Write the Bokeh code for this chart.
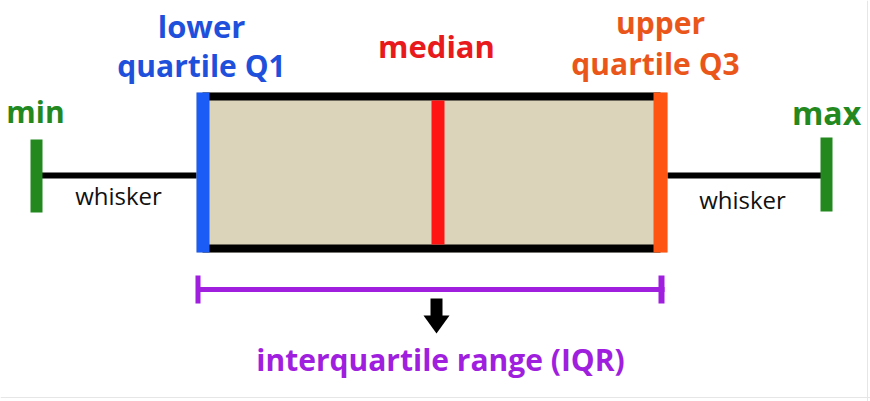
from bokeh.plotting import figure
from bokeh.models import Range1d, Span
from bokeh.core.properties import value
from bokeh.embed import file_html
from bokeh.resources import INLINE

# ---- data (diagram positions of the five-number summary, in drawing units) ----
stat_names = ["min", "Q1", "median", "Q3", "max"]
stat_values = [36, 202, 437, 660, 826]

# label texts
top_labels = ["lower", "quartile Q1", "median", "upper", "quartile Q3", "min", "max"]
whisker_label = "whisker"
iqr_label = "interquartile range (IQR)"

# colours
GREEN = "#23891f"
BLUE_TXT = "#1f50dc"
BLUE_BAR = "#1a5cf5"
RED_TXT = "#e81a1c"
RED_BAR = "#ff1414"
ORANGE_TXT = "#ea561a"
ORANGE_BAR = "#ff5512"
PURPLE = "#a01fdf"
BEIGE = "#dcd3bb"

vmin, q1, med, q3, vmax = stat_values

W, H = 870, 401
p = figure(width=W, height=H, x_range=Range1d(0, W), y_range=Range1d(H, 0),
           output_backend="svg", toolbar_location=None, min_border=0)
p.axis.visible = False
p.grid.visible = False
p.outline_line_color = None
p.background_fill_color = "white"
p.border_fill_color = "white"

# faint frame lines (right and bottom) of the original picture
p.add_layout(Span(location=867, dimension="height", line_color="#e6e6e6", line_width=1))
p.add_layout(Span(location=397, dimension="width", line_color="#e6e6e6", line_width=1))

mid_y = 175
box_top, box_bot = 92, 252
edge = 8

# whiskers
p.segment(x0=[vmin, q3], y0=[mid_y, mid_y], x1=[q1, vmax], y1=[mid_y, mid_y],
          line_color="black", line_width=6)
# min / max caps
p.quad(left=[vmin - 6, vmax - 6], right=[vmin + 6, vmax + 6],
       top=[139, 137], bottom=[212, 211], fill_color=GREEN, line_color=None)
# box body
p.quad(left=[q1 - 6], right=[q3 + 7], top=[box_top], bottom=[box_bot],
       fill_color=BEIGE, line_color=None)
# box top/bottom edges
p.quad(left=[q1, q1], right=[q3, q3], top=[box_top, box_bot - edge],
       bottom=[box_top + edge, box_bot], fill_color="black", line_color=None)
# Q1 and Q3 bars
p.quad(left=[q1 - 6], right=[q1 + 7], top=[box_top], bottom=[box_bot],
       fill_color=BLUE_BAR, line_color=None)
p.quad(left=[q3 - 7], right=[q3 + 7], top=[box_top], bottom=[box_bot],
       fill_color=ORANGE_BAR, line_color=None)
# median
p.quad(left=[med - 6], right=[med + 7], top=[box_top + edge], bottom=[box_bot - edge],
       fill_color=RED_BAR, line_color=None)

# IQR bracket
iqr_y = 289
p.segment(x0=[q1 - 5], y0=[iqr_y], x1=[q3 + 4], y1=[iqr_y], line_color=PURPLE, line_width=5)
p.quad(left=[q1 - 7, q3 - 2], right=[q1 - 2, q3 + 4], top=[275, 275], bottom=[303, 303],
       fill_color=PURPLE, line_color=None)

# arrow
ax = med - 1
p.quad(left=[ax - 6], right=[ax + 6], top=[298], bottom=[316], fill_color="black", line_color=None)
p.patch(x=[ax - 13, ax + 13, ax], y=[315, 315, 333], fill_color="black", line_color=None)

FONT = value("Open Sans")
DY = -12  # baseline correction

def label(x, y, t, color, size, style="bold"):
    p.text(x=[x], y=[y + DY], text=[t], text_color=color, text_font=FONT,
           text_font_size=size, text_font_style=style,
           text_align="center", text_baseline="alphabetic")

label(q1 - 1, 37, top_labels[0], BLUE_TXT, "31px")
label(q1 - 1, 77, top_labels[1], BLUE_TXT, "30px")
label(med - 1, 57, top_labels[2], RED_TXT, "31px")
label(q3, 34, top_labels[3], ORANGE_TXT, "30px")
label(q3 - 5, 75, top_labels[4], ORANGE_TXT, "30px")
label(vmin - 1, 123, top_labels[5], GREEN, "30px")
label(vmax, 124, top_labels[6], GREEN, "32px")
label(118, 207, whisker_label, "#111111", "24px", "normal")
label(742, 211, whisker_label, "#111111", "24px", "normal")
label(440, 371, iqr_label, PURPLE, "30px")

open("out.html", "w").write(file_html(p, INLINE))
